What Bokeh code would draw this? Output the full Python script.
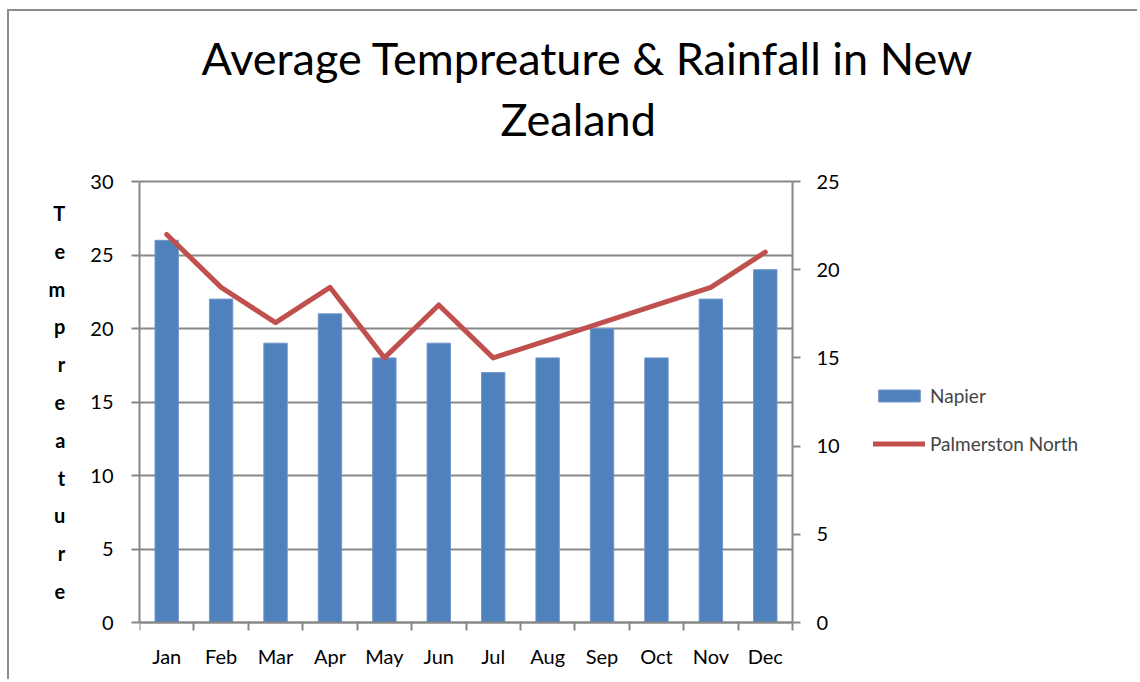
from bokeh.plotting import figure
from bokeh.models import (Range1d, LinearAxis, FixedTicker, Title,
                          ColumnDataSource, Legend, LegendItem)
from bokeh.embed import file_html
from bokeh.resources import INLINE

# ---- data ----
months = ["Jan", "Feb", "Mar", "Apr", "May", "Jun", "Jul", "Aug", "Sep", "Oct", "Nov", "Dec"]
napier = [26, 22, 19, 21, 18, 19, 17, 18, 20, 18, 22, 24]
palmerston_north = [22, 19, 17, 19, 15, 18, 15, 16, 17, 18, 19, 21]
left_ticks = [0, 5, 10, 15, 20, 25, 30]
right_ticks = [0, 5, 10, 15, 20, 25]
title_lines = ["Average Tempreature & Rainfall in New", "Zealand"]
y_title = "Tempreature"
series_names = ["Napier", "Palmerston North"]

FONT = "Lato"
GRAY = "#878787"
BLUE = "#4F81BD"
RED = "#C0504D"

n = len(months)
L_MAX, R_MAX = left_ticks[-1], right_ticks[-1]
# category slots: centre of slot i is i + 0.5, boundaries at integers
centers = [i + 0.5 for i in range(n)]
bounds = list(range(n + 1))

src = ColumnDataSource(dict(x=centers, month=months, napier=napier, pn=palmerston_north))

# geometry: plot area 653 x 441 px; the frame is padded (10 px top/bottom, and to the
# right for the legend) so that the fixed-position axes' labels are not clipped
SLOT_PX = 653 / n
FRAME_W = 1130 - 130 - 50
PLOT_H = 441
PAD = 10
p = figure(width=1130, height=670,
           x_range=Range1d(0, FRAME_W / SLOT_PX),
           y_range=Range1d(-PAD * L_MAX / PLOT_H, L_MAX + PAD * L_MAX / PLOT_H),
           output_backend="svg", toolbar_location=None,
           x_axis_location="below", y_axis_location="left", title=None,
           min_border_left=130, min_border_right=50, min_border_top=160, min_border_bottom=49)
p.styles = {"margin-left": "7px", "margin-top": "9px",
            "border-left": "2px solid #8c8c8c", "border-top": "2px solid #8c8c8c"}
p.extra_y_ranges = {"right": Range1d(-PAD * R_MAX / PLOT_H, R_MAX + PAD * R_MAX / PLOT_H)}
p.outline_line_color = None
p.background_fill_color = "white"
p.border_fill_color = "white"

# grid, limited to the month slots
p.xgrid.visible = False
try:
    p.ygrid.cross_bounds = (0, n)
    p.ygrid.ticker = FixedTicker(ticks=left_ticks)
    p.ygrid.grid_line_color = GRAY
    p.ygrid.grid_line_width = 2
except AttributeError:
    p.ygrid.visible = False
    p.segment(x0=[0] * len(left_ticks), x1=[n] * len(left_ticks), y0=left_ticks, y1=left_ticks,
              line_color=GRAY, line_width=2)

def style_axis(ax, standoff):
    ax.axis_line_color = GRAY
    ax.axis_line_width = 2
    ax.major_tick_line_color = GRAY
    ax.major_tick_line_width = 2
    ax.major_tick_out = 8
    ax.major_tick_in = 0
    ax.minor_tick_line_color = None
    ax.major_label_text_font = FONT
    ax.major_label_text_font_size = "20px"
    ax.major_label_text_color = "black"
    ax.major_label_standoff = standoff

ya = p.yaxis[0]
ya.ticker = FixedTicker(ticks=left_ticks)
ya.bounds = (0, L_MAX)
style_axis(ya, 18)
ya.axis_label = "\n".join(y_title)
ya.axis_label_orientation = "horizontal"
ya.axis_label_text_font = FONT
ya.axis_label_text_font_size = "20px"
ya.axis_label_text_font_style = "bold"
ya.axis_label_text_color = "black"
ya.axis_label_text_align = "center"
ya.axis_label_text_line_height = 1.576
ya.axis_label_standoff = 22

ra = LinearAxis(y_range_name="right", ticker=FixedTicker(ticks=right_ticks),
                fixed_location=n, bounds=(0, R_MAX))
style_axis(ra, 16)
p.add_layout(ra, "right")

# bottom: month labels (panel axis) + axis line with slot-boundary ticks at y = 0
xa = p.xaxis[0]
xa.ticker = FixedTicker(ticks=centers)
style_axis(xa, 11)
xa.axis_line_color = None
xa.major_tick_out = 0
xa.major_tick_line_color = None
xa.major_label_overrides = {c: m for c, m in zip(centers, months)}

xt = LinearAxis(ticker=FixedTicker(ticks=bounds), fixed_location=0, bounds=(0, n))
style_axis(xt, 0)
xt.major_label_text_font_size = "1px"
xt.major_label_text_alpha = 0
xt.major_label_overrides = {b: "" for b in bounds}
p.add_layout(xt, "below")

bars = p.vbar(x="x", top="napier", width=0.43, source=src,
              fill_color=BLUE, line_color="#7397C9", line_width=1)
line = p.line(x="x", y="pn", source=src, y_range_name="right",
              line_color=RED, line_width=5, line_cap="round", line_join="round")

legend = Legend(items=[LegendItem(label=series_names[0], renderers=[bars]),
                       LegendItem(label=series_names[1], renderers=[line])],
                location=(734, 177), glyph_width=52, glyph_height=15, label_standoff=5,
                label_text_font=FONT, label_text_font_size="19px", label_height=24,
                spacing=24, padding=0, margin=0, background_fill_alpha=0,
                border_line_color=None)
p.add_layout(legend)

# title: first added sits nearest the frame (a blank spacer, then the two lines)
p.add_layout(Title(text=" ", standoff=0, text_font=FONT, text_font_size="20px"), "above")
p.add_layout(Title(text=title_lines[1], align="left", offset=361, standoff=0,
                   text_font=FONT, text_font_size="45px", text_font_style="normal",
                   text_color="black"), "above")
p.add_layout(Title(text=title_lines[0], align="left", offset=62, standoff=9,
                   text_font=FONT, text_font_size="45px", text_font_style="normal",
                   text_color="black"), "above")

open("out.html", "w").write(file_html(p, INLINE))
